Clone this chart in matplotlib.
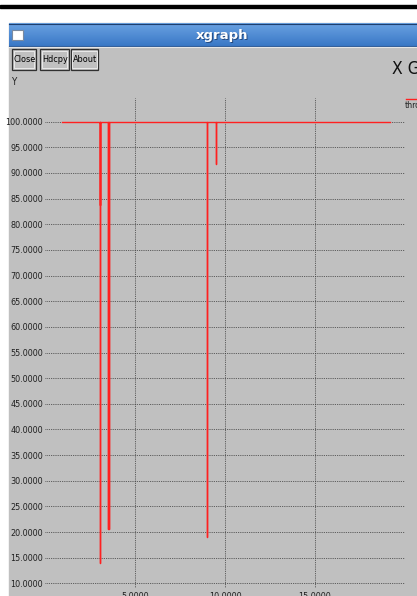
import matplotlib
matplotlib.use("Agg")
import matplotlib.pyplot as plt
from matplotlib.patches import Rectangle
import numpy as np

# throughput trace
time = [0.93, 3.06, 3.06, 3.06, 3.06, 3.06, 3.52, 3.52, 3.52, 3.56, 3.56, 3.56,
        9.02, 9.02, 9.02, 9.52, 9.52, 9.52, 19.17]
thr = [100, 100, 83.7, 100, 13.9, 100, 100, 20.6, 100, 100, 20.6, 100,
       100, 19.0, 100, 100, 91.7, 100, 100]
x_ticks = [5, 10, 15]
y_ticks = list(range(10, 101, 5))
buttons = ["Close", "Hdcpy", "About"]

W, H = 417, 596
GRAY = "#c0c0c0"
FONT = ["DejaVu Sans"]

fig = plt.figure(figsize=(W / 100, H / 100), dpi=100)
fig.patch.set_facecolor("white")

# background axes in pixel coordinates for the window decoration
bg = fig.add_axes([0, 0, 1, 1])
bg.set_xlim(0, W)
bg.set_ylim(H, 0)
bg.axis("off")

bg.add_patch(Rectangle((0, 5), W, 3, color="black"))
bg.add_patch(Rectangle((9, 23), W - 9, H - 23, color=GRAY))

# title bar gradient
grad = np.linspace(0, 1, 50).reshape(-1, 1)
cmap = matplotlib.colors.LinearSegmentedColormap.from_list("tb", ["#6aa2e2", "#3a78c6"])
bg.imshow(grad, cmap=cmap, extent=(9, W, 46, 23), aspect="auto", zorder=1)
bg.plot([9, W], [23.5, 23.5], color="#1d3f6e", lw=0.8, zorder=2)
bg.plot([9, W], [46, 46], color="#2c5a96", lw=0.8, zorder=2)
bg.plot([9, W], [47.3, 47.3], color="#e6e6e6", lw=0.8, zorder=2)
bg.add_patch(Rectangle((12.5, 29.5), 10.5, 10.5, facecolor="white", edgecolor="#7a8aa0", lw=0.8, zorder=3))
bg.text(223.5, 36.5, "xgraph", color="#244a80", fontsize=9.5, fontweight="bold",
        ha="center", va="center", zorder=3)
bg.text(222.5, 35.5, "xgraph", color="white", fontsize=9.5, fontweight="bold",
        ha="center", va="center", zorder=4)

# buttons
bx = [(12.5, 36), (40.5, 69), (71, 98.3)]
for (x0, x1), name in zip(bx, buttons):
    bg.add_patch(Rectangle((x0, 49), x1 - x0, 20.5, facecolor=GRAY, edgecolor="#303030", lw=0.9, zorder=3))
    bg.add_patch(Rectangle((x0 + 1.5, 50.5), x1 - x0 - 3, 17.5, facecolor="none", edgecolor="#f0f0f0", lw=0.6, zorder=3))
    bg.text((x0 + x1) / 2, 59.5, name, family=FONT, fontstretch="condensed", fontsize=6.5,
            ha="center", va="center", zorder=4)

bg.text(11.5, 82, "Y", family=FONT, fontstretch="condensed", fontsize=7, ha="left", va="center", color="#202020")
bg.text(392, 69, "X Graph", family=FONT, fontstretch="condensed", fontsize=12.5, ha="left", va="center", color="#101010")

# legend stub at the right edge
bg.plot([406, W], [99, 99], color="#ff2020", lw=1.0)
bg.text(405, 105.5, "throughput", family=FONT, fontstretch="condensed", fontsize=6.3,
        ha="left", va="center", color="#202020")

# data axes
top_px, bot_px, left_px, right_px = 98, 588, 45, 405
ax = fig.add_axes([left_px / W, 1 - bot_px / H, (right_px - left_px) / W, (bot_px - top_px) / H])
ax.patch.set_alpha(0)
ppu_x = 18.0
ppu_y = (583.3 - 121.7) / 90
ax.set_xlim((left_px - 45) / ppu_x, (right_px - 45) / ppu_x)
ax.set_ylim(10 - (bot_px - 583.3) / ppu_y, 100 + (121.7 - top_px) / ppu_y)
for s in ax.spines.values():
    s.set_visible(False)

ax.set_xticks(x_ticks)
ax.set_xticklabels(["%.4f" % v for v in x_ticks], family=FONT, fontstretch="condensed", fontsize=6.5)
ax.set_yticks(y_ticks)
ax.set_yticklabels(["%.4f" % v for v in y_ticks], family=FONT, fontstretch="condensed", fontsize=6.5)
ax.tick_params(length=0, pad=1.5, colors="#202020")
ax.tick_params(axis="x", pad=3)
ax.grid(True, color="#3a3a3a", linestyle=(0, (1, 1.2)), linewidth=0.6)
ax.set_axisbelow(True)

ax.plot(time, thr, color="#ff2020", lw=1.0, zorder=3)

fig.savefig("out.png", dpi=100)
